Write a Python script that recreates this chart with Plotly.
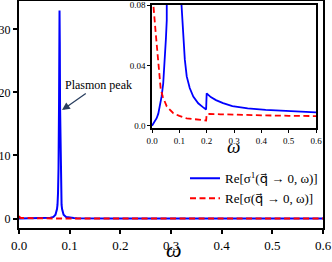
import plotly.graph_objects as go

# Blue: Re[sigma^1(q->0, w)]
omega_blue = [0, 0.008, 0.017, 0.023, 0.029, 0.035, 0.041, 0.047, 0.051, 0.054, 0.056,
              0.062, 0.068, 0.072, 0.075, 0.076, 0.077, 0.078, 0.079, 0.0795, 0.08,
              0.0805, 0.081, 0.082, 0.083, 0.084, 0.085, 0.088, 0.093, 0.1, 0.108,
              0.114, 0.12, 0.127, 0.138, 0.151, 0.169, 0.185, 0.198, 0.2, 0.205,
              0.215, 0.234, 0.26, 0.294, 0.35, 0.416, 0.5, 0.6]
sigma1_re = [0, 0.002, 0.005, 0.008, 0.0127, 0.0193, 0.028, 0.044, 0.058, 0.070, 0.08,
             0.13, 0.25, 0.6, 1.5, 2.2, 4, 8, 18, 28, 33,
             28, 18, 8, 4, 2.2, 1.5, 0.6, 0.25, 0.13, 0.08,
             0.057, 0.044, 0.0327, 0.025, 0.0193, 0.0149, 0.0125, 0.0108, 0.0215, 0.0205,
             0.019, 0.017, 0.015, 0.013, 0.0115, 0.0105, 0.0095, 0.0088]

# Red: Re[sigma(q->0, w)]
omega_red = [0, 0.002, 0.005, 0.0135, 0.023, 0.032, 0.04, 0.054, 0.078, 0.1, 0.127,
             0.15, 0.169, 0.198, 0.2, 0.21, 0.25, 0.3, 0.4, 0.5, 0.6]
sigma_re = [0.4, 0.15, 0.08, 0.0616, 0.0393, 0.024, 0.019, 0.0128, 0.0083, 0.0065, 0.0049,
            0.0043, 0.0038, 0.0035, 0.0075, 0.0078, 0.0076, 0.0073, 0.0069, 0.0066, 0.0064]

x_ticks = [0, 0.1, 0.2, 0.3, 0.4, 0.5, 0.6]
x_ticktext = ["0.0", "0.1", "0.2", "0.3", "0.4", "0.5", "0.6"]
y_ticks = [0, 10, 20, 30]
y_ticktext = ["0", "10", "20", "30"]
inset_y_ticks = [0, 0.04, 0.08]
inset_y_ticktext = ["0.0", "0.04", "0.08"]

FONT = "Liberation Serif, Times New Roman, DejaVu Serif, serif"
BLUE = "#0000ff"
RED = "#ff0000"
DASH = "6px,3.5px"

qvec = "<span style='font-family:DejaVu Sans'>q\u20d7</span>"
name_blue = "Re[σ<sup>1</sup>(" + qvec + " → 0, ω)]"
name_red = "Re[σ(" + qvec + " → 0, ω)]"

fig = go.Figure()
fig.add_trace(go.Scatter(x=omega_blue, y=sigma1_re, mode="lines", name=name_blue,
                         line=dict(color=BLUE, width=2), xaxis="x", yaxis="y"))
fig.add_trace(go.Scatter(x=omega_red, y=sigma_re, mode="lines", name=name_red,
                         line=dict(color=RED, width=2, dash=DASH), xaxis="x", yaxis="y"))
fig.add_trace(go.Scatter(x=omega_blue, y=sigma1_re, mode="lines", showlegend=False,
                         line=dict(color=BLUE, width=1.8), xaxis="x2", yaxis="y2"))
fig.add_trace(go.Scatter(x=omega_red, y=sigma_re, mode="lines", showlegend=False,
                         line=dict(color=RED, width=1.8, dash=DASH), xaxis="x2", yaxis="y2"))

axis_common = dict(showgrid=False, zeroline=False, showline=True, linecolor="black",
                   mirror=True, ticks="outside", tickcolor="black", automargin=False)

fig.update_layout(
    width=332, height=262,
    margin=dict(l=19, r=9, t=1, b=34),
    paper_bgcolor="white", plot_bgcolor="white",
    font=dict(family=FONT, color="black"),
    xaxis=dict(domain=[0, 1], range=[0, 0.6], tickvals=x_ticks, ticktext=x_ticktext,
               linewidth=2, ticklen=4, tickwidth=1.5, tickfont=dict(size=13), **axis_common),
    yaxis=dict(domain=[0, 1], range=[-1.5, 34.5], tickvals=y_ticks, ticktext=y_ticktext,
               linewidth=2, ticklen=4, tickwidth=1.5, tickfont=dict(size=12), **axis_common),
    xaxis2=dict(domain=[0.4375, 0.977], anchor="y2", range=[0, 0.6], tickvals=x_ticks,
                ticktext=x_ticktext, linewidth=1.5, ticklen=3, tickwidth=1,
                tickfont=dict(size=9), **axis_common),
    yaxis2=dict(domain=[0.4405, 0.982], anchor="x2", range=[-0.0015, 0.08],
                tickvals=inset_y_ticks, ticktext=inset_y_ticktext, linewidth=1.5,
                ticklen=3, tickwidth=1, tickfont=dict(size=9), **axis_common),
    legend=dict(x=1, xanchor="right", y=0.285, yanchor="top", bgcolor="rgba(0,0,0,0)",
                font=dict(size=13, family=FONT), tracegroupgap=0),
    annotations=[
        dict(x=0.0849, y=17.2, xref="x", yref="y", text="Plasmon peak",
             showarrow=True, arrowhead=2, arrowsize=1.2, arrowwidth=1.3,
             ax=36, ay=-25, font=dict(size=12, family=FONT), standoff=0),
        dict(x=0.51, y=-0.158, xref="paper", yref="paper", text="<i>ω</i>",
             showarrow=False, xanchor="center", yanchor="bottom",
             font=dict(size=22, family=FONT)),
        dict(x=0.704, y=0.36, xref="paper", yref="paper", text="<i>ω</i>",
             showarrow=False, xanchor="center", yanchor="middle",
             font=dict(size=19, family=FONT)),
    ],
)

fig.write_html("out.html", config={"displayModeBar": False},
               post_script="document.body.style.margin='0';document.body.style.padding='0';")
